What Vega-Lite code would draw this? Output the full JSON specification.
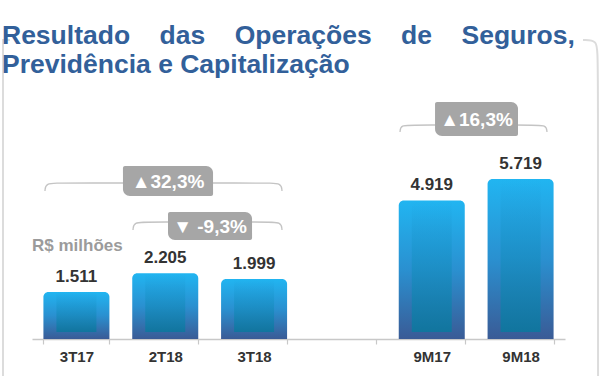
{
  "$schema": "https://vega.github.io/schema/vega-lite/v6.json",
  "width": 533,
  "height": 244,
  "autosize": {"type": "none"},
  "padding": {"left": 32, "top": 95, "right": 35, "bottom": 37},
  "background": "white",
  "title": {
    "text": ["Resultado\u00a0\u00a0\u00a0 das\u00a0\u00a0\u00a0 Operações\u00a0\u00a0\u00a0 de\u00a0\u00a0\u00a0 Seguros,", "Previdência e Capitalização"],
    "anchor": "start",
    "font": "Liberation Sans",
    "fontSize": 26.5,
    "fontWeight": "bold",
    "color": "#32609a",
    "baseline": "alphabetic",
    "lineHeight": 29,
    "offset": -63,
    "dx": 3
  },
  "datasets": {
    "bars": [
      {"cat": "3T17", "v": 1511},
      {"cat": "2T18", "v": 2205},
      {"cat": "3T18", "v": 1999},
      {"cat": "9M17", "v": 4919},
      {"cat": "9M18", "v": 5719}
    ],
    "brackets": [
      {"b": "a", "o": 0, "x": 0.146, "y": 5272},
      {"b": "a", "o": 1, "x": 0.152, "y": 5569},
      {"b": "a", "o": 2, "x": 0.315, "y": 5569},
      {"b": "a", "o": 3, "x": 2.645, "y": 5569},
      {"b": "a", "o": 4, "x": 2.809, "y": 5569},
      {"b": "a", "o": 5, "x": 2.814, "y": 5272},
      {"b": "b", "o": 0, "x": 1.137, "y": 3819},
      {"b": "b", "o": 1, "x": 1.143, "y": 4117},
      {"b": "b", "o": 2, "x": 1.306, "y": 4117},
      {"b": "b", "o": 3, "x": 2.645, "y": 4117},
      {"b": "b", "o": 4, "x": 2.809, "y": 4117},
      {"b": "b", "o": 5, "x": 2.814, "y": 3819},
      {"b": "c", "o": 0, "x": 4.143, "y": 7469},
      {"b": "c", "o": 1, "x": 4.148, "y": 7729},
      {"b": "c", "o": 2, "x": 4.300, "y": 7729},
      {"b": "c", "o": 3, "x": 5.628, "y": 7729},
      {"b": "c", "o": 4, "x": 5.792, "y": 7729},
      {"b": "c", "o": 5, "x": 5.797, "y": 7469}
    ],
    "frame": [
      {"b": "l", "o": 0, "x": -0.2477, "y": 10895},
      {"b": "l", "o": 1, "x": -0.3265, "y": 10895},
      {"b": "l", "o": 2, "x": -0.3265, "y": 10895},
      {"b": "l", "o": 3, "x": -0.3265, "y": 10895},
      {"b": "l", "o": 4, "x": -0.3265, "y": -1767},
      {"b": "r", "o": 0, "x": 6.203, "y": 10895},
      {"b": "r", "o": 1, "x": 6.365, "y": 10895},
      {"b": "r", "o": 2, "x": 6.372, "y": 10299},
      {"b": "r", "o": 3, "x": 6.372, "y": -1767}
    ],
    "badges": [
      {"x": 1.024, "x2": 2.038, "y": 6203, "y2": 5085, "tx": 1.531, "ty": 5644, "t": "▲32,3%"},
      {"x": 1.531, "x2": 2.477, "y": 4489, "y2": 3447, "tx": 2.004, "ty": 3968, "t": "▼ -9,3%"},
      {"x": 4.537, "x2": 5.471, "y": 8586, "y2": 7320, "tx": 5.004, "ty": 7953, "t": "▲16,3%"}
    ],
    "note": [
      {"x": 0, "y": 3037, "t": "R$ milhões"}
    ]
  },
  "resolve": {"scale": {"x": "independent"}, "axis": {"x": "independent"}},
  "layer": [
    {
      "data": {"name": "frame"},
      "mark": {"type": "line", "interpolate": "basis", "stroke": "#dcdcdc", "strokeWidth": 2},
      "encoding": {
        "x": {"field": "x", "type": "quantitative", "scale": {"domain": [0, 6], "nice": false, "zero": false}, "axis": null},
        "y": {"field": "y", "type": "quantitative", "scale": {"domain": [-240, 8847], "nice": false, "zero": false}, "axis": null},
        "detail": {"field": "b"},
        "order": {"field": "o", "type": "quantitative"}
      }
    },
    {
      "data": {"name": "bars"},
      "mark": {
        "type": "bar",
        "cornerRadiusTopLeft": 5,
        "cornerRadiusTopRight": 5,
        "color": {
          "gradient": "linear", "x1": 0, "y1": 0, "x2": 0, "y2": 1,
          "stops": [
            {"offset": 0, "color": "#21b5f1"},
            {"offset": 0.5, "color": "#2a90d0"},
            {"offset": 1, "color": "#3a5b96"}
          ]
        }
      },
      "encoding": {
        "x": {
          "field": "cat", "type": "nominal",
          "scale": {"domain": ["3T17", "2T18", "3T18", "gap", "9M17", "9M18"], "paddingInner": 0.257, "paddingOuter": 0.1285},
          "axis": {
            "title": null, "labelAngle": 0, "orient": "bottom",
            "labelExpr": "datum.value == 'gap' ? '' : datum.value",
            "domainColor": "#c8c8c8", "domainWidth": 1.5,
            "tickColor": "#c8c8c8", "tickSize": 5, "tickWidth": 1.2, "tickBand": "extent",
            "labelFont": "Liberation Sans", "labelFontWeight": "bold", "labelFontSize": 15,
            "labelColor": "#333333", "labelPadding": 5
          }
        },
        "y": {"field": "v", "type": "quantitative", "scale": {"domain": [-240, 8847], "nice": false, "zero": false}, "axis": null},
        "y2": {"datum": -240}
      }
    },
    {
      "data": {"name": "bars"},
      "mark": {
        "type": "bar",
        "width": 40,
        "y2Offset": -7,
        "color": {
          "gradient": "linear", "x1": 0, "y1": 0, "x2": 0, "y2": 1,
          "stops": [
            {"offset": 0, "color": "rgba(30,160,220,0)"},
            {"offset": 0.35, "color": "rgba(26,150,205,0.6)"},
            {"offset": 1, "color": "#11759e"}
          ]
        }
      },
      "encoding": {
        "x": {"field": "cat", "type": "nominal", "scale": {"domain": ["3T17", "2T18", "3T18", "gap", "9M17", "9M18"], "paddingInner": 0.257, "paddingOuter": 0.1285}, "axis": null},
        "y": {"field": "v", "type": "quantitative", "scale": {"domain": [-240, 8847], "nice": false, "zero": false}, "axis": null},
        "y2": {"datum": -240}
      }
    },
    {
      "data": {"name": "bars"},
      "mark": {"type": "text", "baseline": "alphabetic", "dy": -10, "font": "Liberation Sans", "fontWeight": "bold", "fontSize": 17, "color": "#333333"},
      "encoding": {
        "x": {"field": "cat", "type": "nominal", "scale": {"domain": ["3T17", "2T18", "3T18", "gap", "9M17", "9M18"], "paddingInner": 0.257, "paddingOuter": 0.1285}, "axis": null},
        "y": {"field": "v", "type": "quantitative", "scale": {"domain": [-240, 8847], "nice": false, "zero": false}, "axis": null},
        "text": {"field": "v", "type": "quantitative", "format": ",d"}
      }
    },
    {
      "data": {"name": "brackets"},
      "mark": {"type": "line", "interpolate": "basis", "stroke": "#c4c4c4", "strokeWidth": 1.3},
      "encoding": {
        "x": {"field": "x", "type": "quantitative", "scale": {"domain": [0, 6], "nice": false, "zero": false}, "axis": null},
        "y": {"field": "y", "type": "quantitative", "scale": {"domain": [-240, 8847], "nice": false, "zero": false}, "axis": null},
        "detail": {"field": "b"},
        "order": {"field": "o", "type": "quantitative"}
      }
    },
    {
      "data": {"name": "badges"},
      "mark": {"type": "rect", "color": "#a6a6a6", "cornerRadiusTopRight": 7, "cornerRadiusBottomLeft": 7, "cornerRadiusTopLeft": 2, "cornerRadiusBottomRight": 2},
      "encoding": {
        "x": {"field": "x", "type": "quantitative", "scale": {"domain": [0, 6], "nice": false, "zero": false}, "axis": null},
        "x2": {"field": "x2"},
        "y": {"field": "y", "type": "quantitative", "scale": {"domain": [-240, 8847], "nice": false, "zero": false}, "axis": null},
        "y2": {"field": "y2"}
      }
    },
    {
      "data": {"name": "badges"},
      "mark": {"type": "text", "baseline": "middle", "align": "center", "font": "Liberation Sans", "fontWeight": "bold", "fontSize": 19, "color": "white", "dy": 1},
      "encoding": {
        "x": {"field": "tx", "type": "quantitative", "scale": {"domain": [0, 6], "nice": false, "zero": false}, "axis": null},
        "y": {"field": "ty", "type": "quantitative", "scale": {"domain": [-240, 8847], "nice": false, "zero": false}, "axis": null},
        "text": {"field": "t"}
      }
    },
    {
      "data": {"name": "note"},
      "mark": {"type": "text", "baseline": "alphabetic", "align": "left", "font": "Liberation Sans", "fontWeight": "bold", "fontSize": 17, "color": "#9b9b9b"},
      "encoding": {
        "x": {"field": "x", "type": "quantitative", "scale": {"domain": [0, 6], "nice": false, "zero": false}, "axis": null},
        "y": {"field": "y", "type": "quantitative", "scale": {"domain": [-240, 8847], "nice": false, "zero": false}, "axis": null},
        "text": {"field": "t"}
      }
    }
  ],
  "config": {
    "view": {"stroke": null},
    "locale": {"number": {"decimal": ",", "thousands": ".", "grouping": [3], "currency": ["R$ ", ""]}}
  }
}
